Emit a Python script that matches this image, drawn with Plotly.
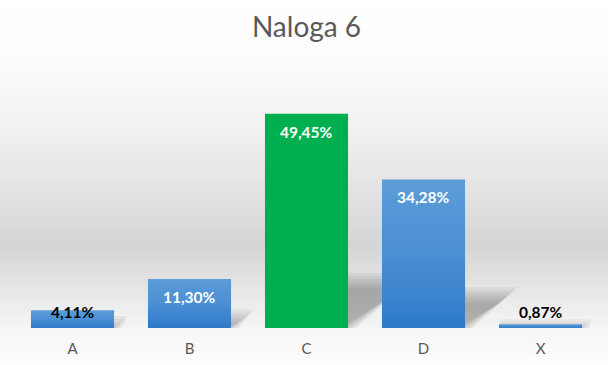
import plotly.graph_objects as go

categories = ["A", "B", "C", "D", "X"]
values = [4.11, 11.30, 49.45, 34.28, 0.87]
labels = ["4,11%", "11,30%", "49,45%", "34,28%", "0,87%"]
highlight = ["C"]

W, H = 608, 365
ML, MR, MT, MB = 14, 9, 68, 37
YMAX = 60
BW = 0.71
xs = list(range(len(categories)))

ph = H - MT - MB
pw = W - ML - MR
PX_X = 5.0 / pw          # one pixel in x units (range width 5)
PX_Y = YMAX / ph         # one pixel in y units

BLUE_SCALE = [[0, "#2E7AC9"], [0.5, "#4B8FD4"], [1, "#5C9DD8"]]
GREEN_SCALE = [[0, "#00B050"], [1, "#00B050"]]

fig = go.Figure()

# soft perspective shadows (drawn first, under the bars)
for i, v in zip(xs, values):
    rise = 0.22 * v
    dx = 0.011 * v
    for b in [-7, -4, -1, 2, 5, 8]:
        r = max(rise + b * PX_Y, 0)
        xr = i + BW / 2 + b * PX_X
        xl = i - BW / 2
        fig.add_trace(go.Scatter(
            x=[xl, xr, xr + dx, xl + dx, xl],
            y=[0, 0, r, r, 0],
            fill="toself", mode="lines", line=dict(width=0),
            fillcolor="rgba(0,0,0,0.05)",
            hoverinfo="skip", showlegend=False))

# bars
for i, c, v in zip(xs, categories, values):
    scale = GREEN_SCALE if c in highlight else BLUE_SCALE
    fig.add_trace(go.Scatter(
        x=[i - BW / 2, i + BW / 2, i + BW / 2, i - BW / 2, i - BW / 2],
        y=[0, 0, v, v, 0],
        fill="toself", mode="lines", line=dict(width=0),
        fillgradient=dict(type="vertical", colorscale=scale),
        hoverinfo="skip", showlegend=False))

# labels
for i, v, t in zip(xs, values, labels):
    if v >= 10:
        fig.add_annotation(x=i, y=v, yshift=-18, text=f"<b>{t}</b>", showarrow=False,
                           font=dict(family="Lato", size=15.5, color="white"), yanchor="middle")
    else:
        fig.add_annotation(x=i, y=0, yshift=16, text=f"<b>{t}</b>", showarrow=False,
                           font=dict(family="Lato", size=15.5, color="black"), yanchor="middle")

# background gradient strips
stops = [(0, 255), (60, 252), (120, 243), (170, 232), (210, 222), (245, 213),
         (275, 224), (305, 236), (330, 246), (365, 253)]
def gray_at(py):
    for (a, ga), (b, gb) in zip(stops, stops[1:]):
        if a <= py <= b:
            return ga + (gb - ga) * (py - a) / (b - a)
    return 255
shapes = []
step = 3
for py in range(0, H, step):
    g = int(round(gray_at(py + step / 2)))
    y0 = (H - MB - (py + step)) / ph
    y1 = (H - MB - py) / ph
    shapes.append(dict(type="rect", xref="paper", yref="paper",
                       x0=-ML / pw - 0.01, x1=1 + MR / pw + 0.01,
                       y0=y0, y1=y1 + 0.001, layer="below", line=dict(width=0),
                       fillcolor=f"rgb({g},{g},{g})"))

fig.update_layout(
    width=W, height=H,
    margin=dict(l=ML, r=MR, t=MT, b=MB),
    paper_bgcolor="white", plot_bgcolor="rgba(0,0,0,0)",
    shapes=shapes,
    title=dict(text="Naloga 6", x=0.5, xref="paper", xanchor="center", y=1 - 27 / H, yanchor="middle",
               font=dict(family="Lato", size=28, color="#595959")),
    xaxis=dict(range=[-0.5, 4.5], tickvals=xs, ticktext=categories, showgrid=False, zeroline=False,
               showline=False, ticks="", tickfont=dict(family="Lato", size=15, color="#595959"),
               ticklabelstandoff=10, fixedrange=True),
    yaxis=dict(range=[0, YMAX], visible=False, showgrid=False, zeroline=False, fixedrange=True),
)

fig.write_html("out.html", config={"displayModeBar": False},
               post_script="document.body.style.margin='0';")
